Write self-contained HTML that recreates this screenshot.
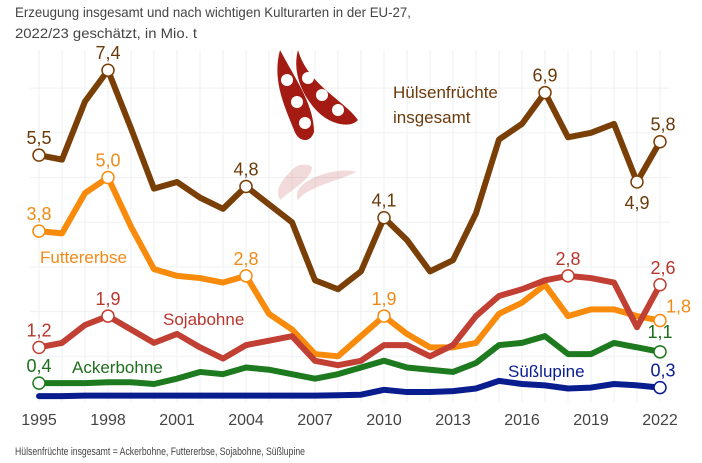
<!DOCTYPE html>
<html><head><meta charset="utf-8">
<style>
html,body{margin:0;padding:0;background:#fff;}
body{width:702px;height:458px;overflow:hidden;font-family:"Liberation Sans",sans-serif;}
</style></head>
<body>
<svg id="chart" width="702" height="458" viewBox="0 0 702 458" xmlns="http://www.w3.org/2000/svg">
  <text x="15" y="17" font-size="14" textLength="396" lengthAdjust="spacingAndGlyphs" fill="#444" font-family="Liberation Sans, sans-serif">Erzeugung insgesamt und nach wichtigen Kulturarten in der EU-27,</text>
  <text x="15" y="38" font-size="14" textLength="182" lengthAdjust="spacingAndGlyphs" fill="#444" font-family="Liberation Sans, sans-serif">2022/23 geschätzt, in Mio. t</text>
  <g id="grid"></g>
  <g id="beans" transform="translate(272,50)">
    <g opacity="0.15" transform="translate(0,150) scale(1,-0.4)">
      <path d="M8 0 C22 30,40 55,40 82 C36 92,26 90,22 80 C12 55,2 30,8 0Z" fill="#a11"/>
      <path d="M26 0 C36 35,70 50,84 70 C76 78,58 72,46 60 C30 45,22 22,26 0Z" fill="#a11"/>
    </g>
    <path d="M8 0 C24 30,42 55,42 82 C38 94,26 92,22 80 C12 55,0 30,8 0Z" fill="#a31b12"/>
    <circle cx="15" cy="30" r="6" fill="#fff"/><circle cx="25" cy="52" r="6" fill="#fff"/><circle cx="33" cy="73" r="6" fill="#fff"/>
    <path d="M26 0 C36 35,72 50,86 70 C78 79,58 74,46 62 C30 46,20 22,26 0Z" fill="#a31b12"/>
    <circle cx="36" cy="28" r="6" fill="#fff"/><circle cx="50" cy="45" r="6" fill="#fff"/><circle cx="66" cy="60" r="6" fill="#fff"/>
  </g>
  <g id="series"></g>
  <g id="labels"></g>
  <g id="xaxis"></g>
  <text x="15" y="455" font-size="11" textLength="290" lengthAdjust="spacingAndGlyphs" fill="#444" font-family="Liberation Sans, sans-serif">Hülsenfrüchte insgesamt = Ackerbohne, Futtererbse, Sojabohne, Süßlupine</text>
</svg>
<script>
const years = [1995,1996,1997,1998,1999,2000,2001,2002,2003,2004,2005,2006,2007,2008,2009,2010,2011,2012,2013,2014,2015,2016,2017,2018,2019,2020,2021,2022];
const totalValues = [5.5,5.4,6.7,7.4,6.1,4.75,4.9,4.55,4.3,4.8,4.4,4.0,2.7,2.5,2.9,4.1,3.6,2.9,3.15,4.2,5.85,6.2,6.9,5.9,6.0,6.2,4.9,5.8];
const peaValues = [3.8,3.75,4.65,5.0,3.9,2.95,2.8,2.75,2.65,2.8,1.95,1.6,1.05,1.0,1.45,1.9,1.5,1.2,1.2,1.3,1.95,2.2,2.6,1.9,2.05,2.05,1.9,1.8];
const soyValues = [1.2,1.3,1.7,1.9,1.6,1.3,1.5,1.2,0.95,1.25,1.35,1.45,0.9,0.8,0.9,1.25,1.25,1.0,1.25,1.9,2.35,2.5,2.7,2.8,2.75,2.65,1.65,2.6];
const beanValues = [0.4,0.4,0.4,0.42,0.42,0.38,0.5,0.65,0.6,0.75,0.7,0.6,0.5,0.6,0.75,0.9,0.75,0.7,0.65,0.85,1.25,1.3,1.45,1.05,1.05,1.3,1.2,1.1];
const lupineValues = [0.11,0.11,0.12,0.12,0.12,0.12,0.12,0.12,0.12,0.12,0.12,0.12,0.12,0.13,0.14,0.25,0.2,0.2,0.22,0.28,0.45,0.38,0.35,0.28,0.3,0.38,0.35,0.3];
const tickYears = [1995,1998,2001,2004,2007,2010,2013,2016,2019,2022];
const gridValues = [1,2,3,4,5,6,7];

const NS="http://www.w3.org/2000/svg";
const x = yr => 39 + (yr-1995)*23;
const y = v => 401 - v*44.7;
function el(tag, attrs, parent){const e=document.createElementNS(NS,tag);for(const k in attrs)e.setAttribute(k,attrs[k]);parent.appendChild(e);return e;}

const grid=document.getElementById('grid');
years.forEach(yr=>{
  const l=el('line',{x1:x(yr),x2:x(yr),y1:50,y2:402,stroke:'#eef0f2','stroke-width':1},grid);
  
  
});
gridValues.forEach(v=>{
  const l=el('line',{x1:30,x2:670,y1:y(v),y2:y(v),stroke:'#eef0f2','stroke-width':1},grid);
  
  
});

const seriesG=document.getElementById('series');
const defs=[
  {name:'lupine',vals:lupineValues,color:'#0a1d8f',pts:[2022]},
  {name:'ackerbohne',vals:beanValues,color:'#1e7a1e',pts:[1995,2022]},
  {name:'futtererbse',vals:peaValues,color:'#f98b0c',pts:[1995,1998,2004,2010,2022]},
  {name:'sojabohne',vals:soyValues,color:'#c13f33',pts:[1995,1998,2018,2022]},
  {name:'total',vals:totalValues,color:'#7a3f06',pts:[1995,1998,2004,2010,2017,2021,2022]}
];
defs.forEach(d=>{
  const p=el('polyline',{points:years.map((yr,i)=>x(yr)+','+y(d.vals[i])).join(' '),fill:'none',stroke:d.color,'stroke-width':6,'stroke-linejoin':'round','stroke-linecap':'round'},seriesG);
  
  
  d.pts.forEach(yr=>{
    const i=years.indexOf(yr);
    const c=el('circle',{cx:x(yr),cy:y(d.vals[i]),r:6,fill:'#fff',stroke:d.color,'stroke-width':1.5},seriesG);
    
    
  });
});

const labG=document.getElementById('labels');
function lab(txt,xx,yy,color,anchor,name,size){
  const t=el('text',{x:xx,y:yy,fill:color,'font-size':size||18,'text-anchor':anchor||'middle','font-family':'Liberation Sans, sans-serif'},labG);
  t.textContent=txt;
  
  
}
const fmt=v=>v.toFixed(1).replace('.',',');
const vi=(arr,yr)=>arr[years.indexOf(yr)];
lab(fmt(vi(totalValues,1995)),x(1995),y(5.5)-11,'#6b3a0a','middle','value-label-total-1995');
lab(fmt(vi(totalValues,1998)),x(1998),y(7.4)-11,'#6b3a0a','middle','value-label-total-1998');
lab(fmt(vi(totalValues,2004)),x(2004),y(4.8)-11,'#6b3a0a','middle','value-label-total-2004');
lab(fmt(vi(totalValues,2010)),x(2010),y(4.1)-11,'#6b3a0a','middle','value-label-total-2010');
lab(fmt(vi(totalValues,2017)),x(2017),y(6.9)-11,'#6b3a0a','middle','value-label-total-2017');
lab('4,9',x(2021),y(4.9)+27,'#6b3a0a','middle','value-label-total-2021');
lab(fmt(vi(totalValues,2022)),x(2022)+3,y(5.8)-11,'#6b3a0a','middle','value-label-total-2022');
lab(fmt(vi(peaValues,1995)),x(1995),y(3.8)-11,'#f28a16','middle','value-label-pea-1995');
lab(fmt(vi(peaValues,1998)),x(1998),y(5.0)-11,'#f28a16','middle','value-label-pea-1998');
lab(fmt(vi(peaValues,2004)),x(2004),y(2.8)-11,'#f28a16','middle','value-label-pea-2004');
lab(fmt(vi(peaValues,2010)),x(2010),y(1.9)-11,'#f28a16','middle','value-label-pea-2010');
lab(fmt(vi(peaValues,2022)),x(2022)+6,y(1.8)-8,'#f28a16','start','value-label-pea-2022');
lab(fmt(vi(soyValues,1995)),x(1995),y(1.2)-11,'#b8352c','middle','value-label-soy-1995');
lab(fmt(vi(soyValues,1998)),x(1998),y(1.9)-11,'#b8352c','middle','value-label-soy-1998');
lab(fmt(vi(soyValues,2018)),x(2018),y(2.8)-11,'#b8352c','middle','value-label-soy-2018');
lab(fmt(vi(soyValues,2022)),x(2022)+3,y(2.6)-11,'#b8352c','middle','value-label-soy-2022');
lab(fmt(vi(beanValues,1995)),x(1995),y(0.4)-11,'#1e6e1e','middle','value-label-bean-1995');
lab('1,1',x(2022),y(1.1)-14,'#1e6e1e','middle','value-label-bean-2022');
lab(fmt(vi(lupineValues,2022)),x(2022)+3,y(0.3)-11,'#0a1d8f','middle','value-label-lupine-2022');
lab('Futtererbse',40,263,'#f28a16','start','series-label-futtererbse',17);
lab('Sojabohne',163,325,'#b8352c','start','series-label-sojabohne',17);
lab('Ackerbohne',72,373,'#1e6e1e','start','series-label-ackerbohne',17);
lab('Süßlupine',508,377,'#0a1d8f','start','series-label-suesslupine',17);
lab('Hülsenfrüchte',393,98,'#6b3a0a','start','series-label-total-line1',17);
lab('insgesamt',393,123,'#6b3a0a','start','series-label-total-line2',17);

const xa=document.getElementById('xaxis');
tickYears.forEach(yr=>{
  const t=el('text',{x:x(yr),y:425,fill:'#444','font-size':16,'text-anchor':'middle','font-family':'Liberation Sans, sans-serif'},xa);
  t.textContent=yr;
  
  
});
</script>
</body></html>
